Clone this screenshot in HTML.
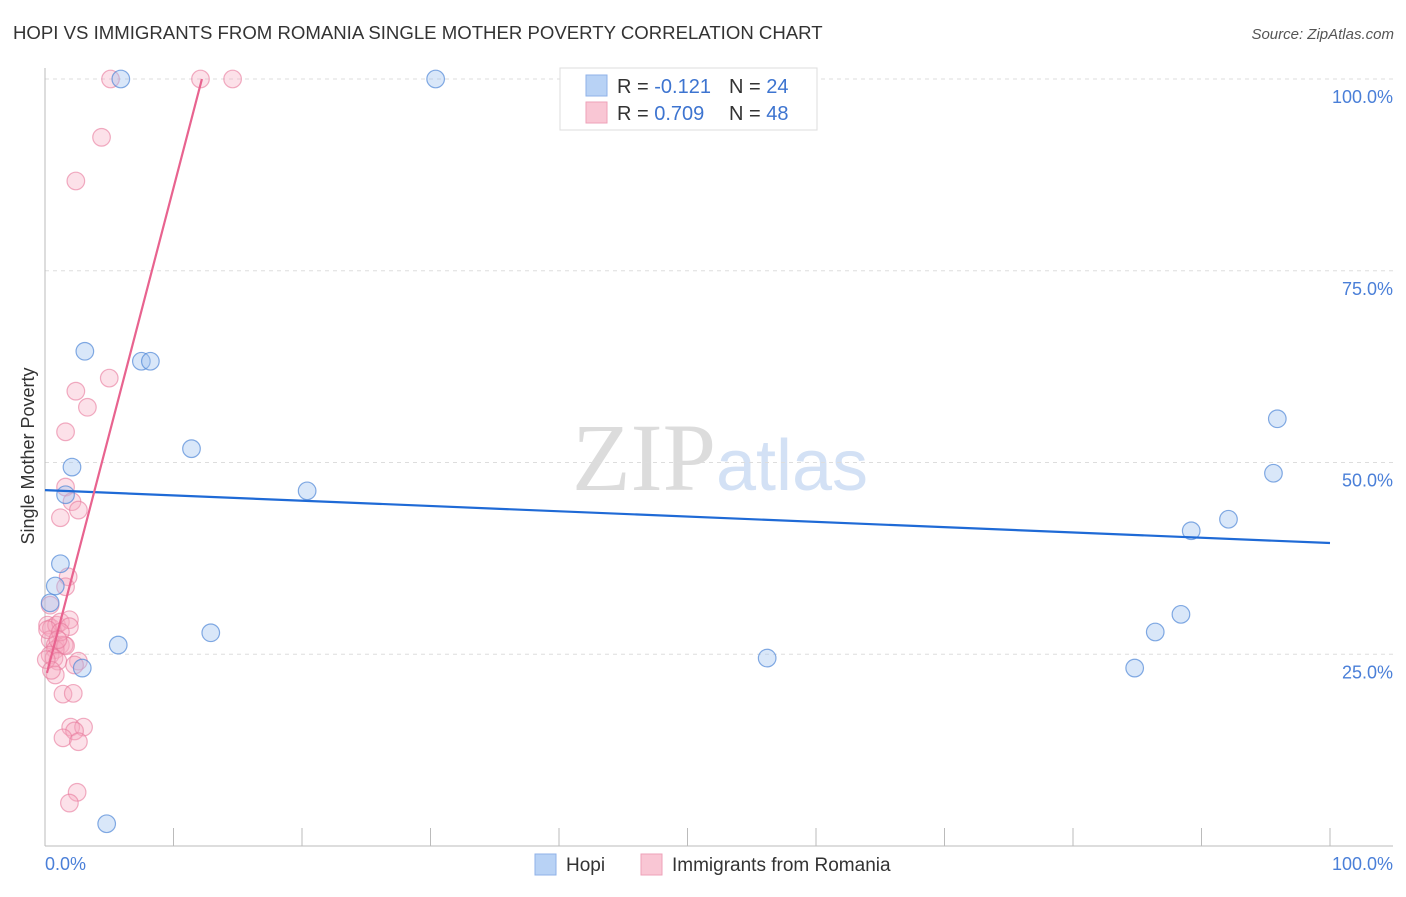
<!DOCTYPE html>
<html><head><meta charset="utf-8">
<style>
body{margin:0;background:#fff;font-family:"Liberation Sans",sans-serif;}
svg text{font-family:"Liberation Sans",sans-serif;}
</style></head>
<body>
<svg id="chart" width="1406" height="892" viewBox="0 0 1406 892" xmlns="http://www.w3.org/2000/svg">
<text x="13" y="39" font-size="18.6" fill="#333">HOPI VS IMMIGRANTS FROM ROMANIA SINGLE MOTHER POVERTY CORRELATION CHART</text>
<text x="1394" y="39" font-size="15" fill="#555" text-anchor="end" font-style="italic">Source: ZipAtlas.com</text>
<text x="720" y="490" font-size="96" text-anchor="middle" fill="#e4e4e4"><tspan font-family="Liberation Serif" fill="#dcdcdc">ZIP</tspan><tspan fill="#d3e1f5" font-size="72">atlas</tspan></text>
<g id="grid"></g>
<g id="axes"></g>
<g id="points"></g>
<g id="trends"></g>
<text transform="translate(34,456) rotate(-90)" font-size="18" fill="#333" text-anchor="middle">Single Mother Poverty</text>
<text x="45" y="870" font-size="18" fill="#4a7fd8">0.0%</text>
<text x="1393" y="870" font-size="18" fill="#4a7fd8" text-anchor="end">100.0%</text>
<g>
<rect x="560" y="68" width="257" height="62" fill="#fff" stroke="#ddd"/>
<rect x="586" y="75" width="21" height="21" fill="#b8d2f5" stroke="#8fb2e8"/>
<rect x="586" y="102" width="21" height="21" fill="#f9c6d4" stroke="#eea1b8"/>
<text x="617" y="93" font-size="20" fill="#333">R = <tspan fill="#3d74d0">-0.121</tspan></text>
<text x="729" y="93" font-size="20" fill="#333">N = <tspan fill="#3d74d0">24</tspan></text>
<text x="617" y="120" font-size="20" fill="#333">R = <tspan fill="#3d74d0">0.709</tspan></text>
<text x="729" y="120" font-size="20" fill="#333">N = <tspan fill="#3d74d0">48</tspan></text>
</g>
<g>
<rect x="535" y="854" width="21" height="21" fill="#b8d2f5" stroke="#8fb2e8"/>
<text x="566" y="871" font-size="19" fill="#333">Hopi</text>
<rect x="641" y="854" width="21" height="21" fill="#f9c6d4" stroke="#eea1b8"/>
<text x="672" y="871" font-size="19" fill="#333">Immigrants from Romania</text>
</g>
</svg>
<script>
const yTicks=[25,50,75,100];
const yTickLabels=["25.0%","50.0%","75.0%","100.0%"];
const xTicks=[0,10,20,30,40,50,60,70,80,90,100];
const hopiX=[5.9,30.4,3.1,7.5,8.2,11.4,2.1,1.6,20.4,1.2,0.8,0.4,5.7,12.9,2.9,4.8,56.2,84.8,86.4,88.4,89.2,92.1,95.6,95.9];
const hopiY=[100,100,64.5,63.2,63.2,51.8,49.4,45.8,46.3,36.8,33.9,31.7,26.2,27.8,23.2,2.9,24.5,23.2,27.9,30.2,41.1,42.6,48.6,55.7];
const romX=[5.1,12.1,14.6,4.4,2.4,5.0,2.4,3.3,1.6,1.6,2.1,2.6,1.2,1.8,0.4,0.2,0.5,0.9,1.2,1.9,1.9,0.4,0.8,1.2,1.5,0.8,1.6,0.4,0.7,2.6,1.0,2.3,0.8,1.4,2.2,2.0,3.0,2.3,1.4,2.6,2.5,1.9,0.2,1.2,0.1,0.5,1.0,1.6];
const romY=[100,100,100,92.4,86.7,61.0,59.3,57.2,54.0,46.8,44.9,43.8,42.8,35.1,31.4,28.8,28.4,28.8,29.2,29.5,28.6,26.9,26.2,26.2,26.2,25.6,26.1,24.9,24.5,24.1,24.1,23.6,22.3,19.8,19.9,15.5,15.5,15.0,14.1,13.6,7.0,5.6,28.2,27.9,24.3,22.9,26.9,33.8];
const hopiTrend=[46.4,39.5]; // y at x=0, x=100
const romTrend=[21.6,6.42]; // intercept, slope
const NS="http://www.w3.org/2000/svg";
const X=v=>45+v*12.85, Y=v=>846-v*7.67;
function mk(tag,attrs,parent){const e=document.createElementNS(NS,tag);for(const k in attrs)e.setAttribute(k,attrs[k]);document.getElementById(parent).appendChild(e);return e;}
yTicks.forEach((t,i)=>{
 const l=mk('line',{x1:45,x2:1393,y1:Y(t),y2:Y(t),stroke:'#ddd','stroke-dasharray':'4,4'},'grid');
 
 
 const tx=mk('text',{x:1393,y:Y(t)+24,'font-size':18,fill:'#4a7fd8','text-anchor':'end'},'grid');
 tx.textContent=yTickLabels[i];
 
 
});
let a=mk('line',{x1:45,x2:45,y1:68,y2:846,stroke:'#bbb'},'axes');


a=mk('line',{x1:45,x2:1393,y1:846,y2:846,stroke:'#bbb'},'axes');


xTicks.forEach(t=>{
 const l=mk('line',{x1:X(t),x2:X(t),y1:828,y2:846,stroke:'#bbb'},'axes');
 
 
});
romX.forEach((v,i)=>{
 const c=mk('circle',{cx:X(v),cy:Y(romY[i]),r:8.8,fill:'rgba(246,170,192,0.35)',stroke:'rgba(232,120,155,0.6)','stroke-width':1.2},'points');
 
 
});
hopiX.forEach((v,i)=>{
 const c=mk('circle',{cx:X(v),cy:Y(hopiY[i]),r:8.8,fill:'rgba(160,196,240,0.4)',stroke:'rgba(80,135,215,0.7)','stroke-width':1.2},'points');
 
 
});
let t=mk('line',{x1:X(0),y1:Y(hopiTrend[0]),x2:X(100),y2:Y(hopiTrend[1]),stroke:'#1f6ad6','stroke-width':2.2},'trends');


const x1=0.15,x2=(100-romTrend[0])/romTrend[1];
t=mk('line',{x1:X(x1),y1:Y(romTrend[0]+romTrend[1]*x1),x2:X(x2),y2:Y(100),stroke:'#e8638f','stroke-width':2.2},'trends');


</script>
</body></html>
